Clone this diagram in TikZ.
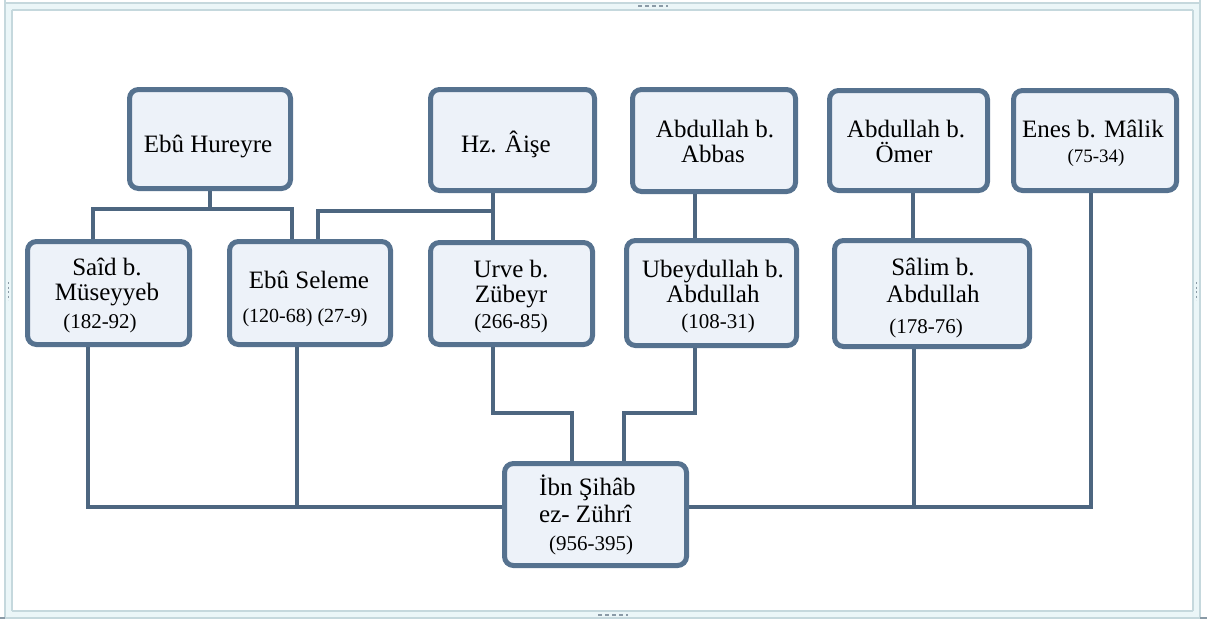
\documentclass[tikz,border=0pt]{standalone}
\usepackage{fontspec}
\setmainfont{Liberation Serif}
\newfontfamily\boxfont{Liberation Serif}
\usetikzlibrary{backgrounds}
\definecolor{boxc}{HTML}{56728F}
\definecolor{boxfill}{HTML}{EDF2F9}
\definecolor{linec}{HTML}{4D6680}
\definecolor{framec}{HTML}{C5D8DD}
\definecolor{framefill}{HTML}{EBF6F8}
\definecolor{dotc}{HTML}{8A9AA6}
\begin{document}
\begin{tikzpicture}[x=1pt,y=-1pt,
  box/.style={draw=boxc, fill=boxfill, line width=5pt, rounded corners=9pt, inner sep=0pt, outer sep=0pt},
  conn/.style={draw=linec, line width=4.5pt},
  nm/.style={font=\boxfont\fontsize{25}{25}\selectfont, inner sep=0pt, anchor=base, text=black},
  dt/.style={font=\boxfont\fontsize{21}{21}\selectfont, inner sep=0pt, anchor=base, text=black},
  frameline/.style={draw=framec, line width=1.2pt},
  dots/.style={draw=dotc, line width=2pt, dash pattern=on 4pt off 3pt}
]
\useasboundingbox (0,0) rectangle (1214,626);

% boxes
\node[box, minimum width=161pt, minimum height=99pt]  (hur)    at (210,139)   {};
\node[box, minimum width=164pt, minimum height=101pt] (aise)   at (512.5,140) {};
\node[box, minimum width=163pt, minimum height=102pt] (abbas)  at (714,140.5) {};
\node[box, minimum width=158pt, minimum height=100pt] (omer)   at (908.5,140.5) {};
\node[box, minimum width=163pt, minimum height=100pt] (enes)   at (1095,140.5) {};
\node[box, minimum width=162pt, minimum height=103pt] (said)   at (108.5,293) {};
\node[box, minimum width=161pt, minimum height=103pt] (seleme) at (310,293) {};
\node[box, minimum width=162pt, minimum height=102pt] (urve)   at (511.5,293.5) {};
\node[box, minimum width=170pt, minimum height=105pt] (ubey)   at (711.5,293) {};
\node[box, minimum width=195pt, minimum height=106pt] (salim)  at (932,293.5) {};
\node[box, minimum width=182pt, minimum height=102pt] (zuhri)  at (595.5,514.5) {};

% texts
\node[nm] (t-hur) at (208,152) {Ebû Hureyre};
\node[nm] (t-aise) at (506,152) {Hz. Âişe};
\node[nm] (t-abbas1) at (715,137) {Abdullah b.};
\node[nm] (t-abbas2) at (713,162) {Abbas};
\node[nm] (t-omer1) at (906,137) {Abdullah b.};
\node[nm] (t-omer2) at (904,162) {Ömer};
\node[nm] (t-enes1) at (1093,137) {Enes b. Mâlik};
\node[dt, font=\boxfont\fontsize{19}{19}\selectfont] (t-enes2) at (1096,162) {(75-34)};
\node[nm] (t-said1) at (107,275) {Saîd b.};
\node[nm] (t-said2) at (107,300) {Müseyyeb};
\node[dt] (t-said3) at (100,328) {(182-92)};
\node[nm] (t-sel1) at (309,288) {Ebû Seleme};
\node[dt, font=\boxfont\fontsize{20}{20}\selectfont] (t-sel2) at (305,322) {(120-68) (27-9)};
\node[nm] (t-urve1) at (511,277) {Urve b.};
\node[nm] (t-urve2) at (511,302) {Zübeyr};
\node[dt] (t-urve3) at (511,328) {(266-85)};
\node[nm] (t-ubey1) at (713,277) {Ubeydullah b.};
\node[nm] (t-ubey2) at (713,302) {Abdullah};
\node[dt] (t-ubey3) at (718,328) {(108-31)};
\node[nm] (t-salim1) at (933,275) {Sâlim b.};
\node[nm] (t-salim2) at (933,302) {Abdullah};
\node[dt] (t-salim3) at (926,333) {(178-76)};
\node[nm, anchor=base west] (t-zuh1) at (539,495) {İbn Şihâb};
\node[nm, anchor=base west] (t-zuh2) at (539,522) {ez- Zührî};
\node[dt] (t-zuh3) at (591,550) {(956-395)};

% junction coordinates
\coordinate (c1) at (93,209);
\coordinate (c2) at (292,209);
\coordinate (c3) at (318,211);
\coordinate (c4) at (493,211);
\coordinate (c5) at (695,0);
\coordinate (c6) at (913,0);
\coordinate (b1) at (88,507);
\coordinate (b2) at (297,507);
\coordinate (b3) at (914,507);
\coordinate (b4) at (1091,507);
\coordinate (u1) at (493,413);
\coordinate (u2) at (572,413);
\coordinate (v1) at (695,413);
\coordinate (v2) at (624,413);

\begin{pgfonlayer}{background}
  % window frame
  \fill[framefill] (5,3) rectangle (1200,10);
  \fill[framefill] (5,611) rectangle (1200,618);
  \fill[framefill] (5,3) rectangle (12,618);
  \fill[framefill] (1193,3) rectangle (1200,618);
  \draw[frameline] (5,0) -- (5,619);
  \draw[frameline] (12,10) -- (12,611);
  \draw[frameline] (1193,10) -- (1193,611);
  \draw[frameline] (1200,0) -- (1200,619);
  \draw[frameline] (5,3) -- (1200,3);
  \draw[frameline] (12,10) -- (1193,10);
  \draw[frameline] (12,611) -- (1193,611);
  \draw[frameline] (5,618) -- (1200,618);
  \draw[draw=dotc, line width=1.5pt] (0,618) -- (5,618);
  \draw[draw=dotc, line width=1.5pt] (1200,618) -- (1207,618);
  \draw[dots] (638,6.5) -- (668,6.5);
  \draw[dots] (598,614.5) -- (628,614.5);
  \draw[dots, line width=1.5pt, dash pattern=on 2pt off 2.5pt] (8.5,282) -- (8.5,300);
  \draw[dots, line width=1.5pt, dash pattern=on 2pt off 2.5pt] (1196.5,282) -- (1196.5,300);

  % connectors
  \draw[conn] (hur.south) -- (hur.south |- c1);
  \draw[conn] (said.north -| c1) -- (c1) -- (c2) -- (seleme.north -| c2);
  \draw[conn] (aise.south -| c4) -- (urve.north -| c4);
  \draw[conn] (c4) -- (c3) -- (seleme.north -| c3);
  \draw[conn] (abbas.south -| c5) -- (ubey.north -| c5);
  \draw[conn] (omer.south -| c6) -- (salim.north -| c6);
  \draw[conn] (said.south -| b1) -- (b1) -- (zuhri.west |- b1);
  \draw[conn] (seleme.south -| b2) -- (b2);
  \draw[conn] (urve.south -| u1) -- (u1) -- (u2) -- (zuhri.north -| u2);
  \draw[conn] (ubey.south -| v1) -- (v1) -- (v2) -- (zuhri.north -| v2);
  \draw[conn] (zuhri.east |- b4) -- (b4) -- (enes.south -| b4);
  \draw[conn] (salim.south -| b3) -- (b3);
\end{pgfonlayer}
\end{tikzpicture}
\end{document}
